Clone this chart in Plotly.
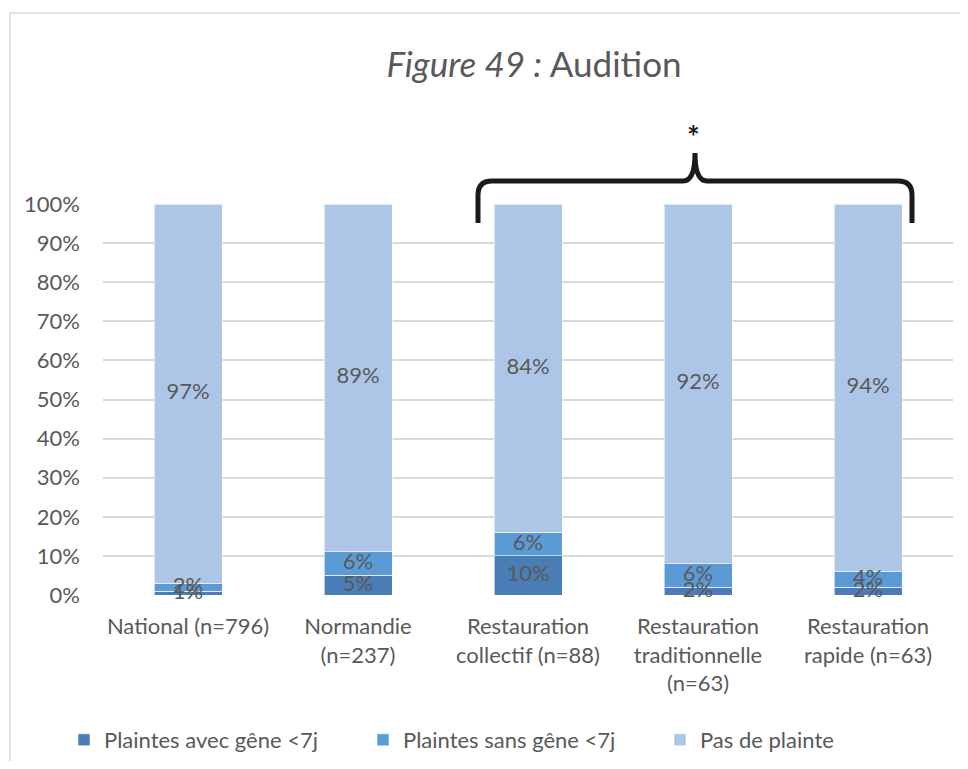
import plotly.graph_objects as go

categories = [
    "National (n=796)",
    "Normandie<br>(n=237)",
    "Restauration<br>collectif (n=88)",
    "Restauration<br>traditionnelle<br>(n=63)",
    "Restauration<br>rapide (n=63)",
]
avec_gene = [0.01, 0.05, 0.10, 0.02, 0.02]
sans_gene = [0.02, 0.06, 0.06, 0.06, 0.04]
pas_plainte = [0.97, 0.89, 0.84, 0.92, 0.94]

series = [
    ("Plaintes avec gêne <7j", avec_gene, "#4A7DB5"),
    ("Plaintes sans gêne <7j", sans_gene, "#5B9BD5"),
    ("Pas de plainte", pas_plainte, "#ADC5E6"),
]

FONT = "Lato"
GREY = "#595959"

# the page body has an 8px margin, keep the figure inside the window
OFF = 8
W, H = 968 - 2 * OFF, 769 - 2 * OFF
L, T = 103 - OFF, 204 - OFF
R = W - (953 - OFF)
B = H - (595 - OFF)


def px(x):
    # window pixel -> paper x
    return (x - OFF - L) / (W - L - R)


def py(y):
    # window pixel -> paper y
    return (H - B - (y - OFF)) / (H - T - B)


legend_ids = ["legend", "legend2", "legend3"]
legend_left = [64, 363, 660]

fig = go.Figure()
for (name, vals, color), lid in zip(series, legend_ids):
    fig.add_trace(
        go.Bar(
            x=categories,
            y=vals,
            name=name,
            legend=lid,
            marker=dict(color=color, line=dict(color="rgba(255,255,255,0.6)", width=1)),
            hoverinfo="name+y",
        )
    )

# data labels on top of all the bars, centred in each segment
base = [0.0] * len(categories)
for name, vals, color in series:
    mids = [b + v / 2 for b, v in zip(base, vals)]
    fig.add_trace(
        go.Scatter(
            x=categories,
            y=mids,
            mode="text",
            text=[f"{v:.0%}" for v in vals],
            textposition="middle center",
            textfont=dict(family=FONT, size=22, color=GREY),
            cliponaxis=False,
            showlegend=False,
            hoverinfo="skip",
        )
    )
    base = [b + v for b, v in zip(base, vals)]

# curly brace over the three restaurant groups
bl, br, bc = px(478), px(912), px(695)
yb, yh, yp = py(223), py(181), py(153)
dx, dy = px(492) - px(478), py(181) - py(195)
cx = px(707) - px(695)
brace = (
    f"M{bl},{yb} L{bl},{yh - dy} Q{bl},{yh} {bl + dx},{yh} "
    f"L{bc - cx},{yh} Q{bc},{yh} {bc},{yp} "
    f"Q{bc},{yh} {bc + cx},{yh} "
    f"L{br - dx},{yh} Q{br},{yh} {br},{yh - dy} L{br},{yb}"
)

legends = {}
for lid, left in zip(legend_ids, legend_left):
    legends[lid] = dict(
        orientation="h",
        x=px(left),
        xanchor="left",
        yref="container",
        y=1 - (740 - OFF) / H,
        yanchor="middle",
        font=dict(family=FONT, size=22, color=GREY),
        bgcolor="rgba(0,0,0,0)",
    )

fig.update_layout(
    width=W,
    height=H,
    barmode="stack",
    bargap=0.6,
    plot_bgcolor="white",
    paper_bgcolor="white",
    margin=dict(l=L, r=R, t=T, b=B, autoexpand=False),
    font=dict(family=FONT, color=GREY),
    title=dict(
        text="<i>Figure 49 :</i> Audition",
        x=(534 - OFF) / W,
        xanchor="center",
        y=1 - (65 - OFF) / H,
        yanchor="middle",
        font=dict(family=FONT, size=35, color=GREY),
    ),
    xaxis=dict(
        showgrid=False,
        showline=False,
        tickfont=dict(family=FONT, size=22, color=GREY),
        ticklabelstandoff=16,
    ),
    yaxis=dict(
        range=[0, 1],
        dtick=0.1,
        tickformat=".0%",
        showgrid=True,
        gridcolor="#D9D9D9",
        gridwidth=1.5,
        zeroline=False,
        showline=False,
        tickfont=dict(family=FONT, size=22, color=GREY),
        ticklabelstandoff=22,
    ),
    shapes=[
        dict(
            type="rect",
            xref="paper",
            yref="paper",
            x0=px(10),
            x1=px(990),
            y0=py(790),
            y1=py(13),
            line=dict(color="#D9D9D9", width=1.5),
            layer="below",
        ),
        dict(
            type="path",
            xref="paper",
            yref="paper",
            path=brace,
            line=dict(color="#1A1A1A", width=5),
        ),
    ],
    annotations=[
        dict(
            text="<b>*</b>",
            xref="paper",
            yref="paper",
            x=px(702),
            y=py(116),
            showarrow=False,
            font=dict(family=FONT, size=30, color="#1A1A1A"),
        )
    ],
    **legends,
)

fig.write_html("out.html")
